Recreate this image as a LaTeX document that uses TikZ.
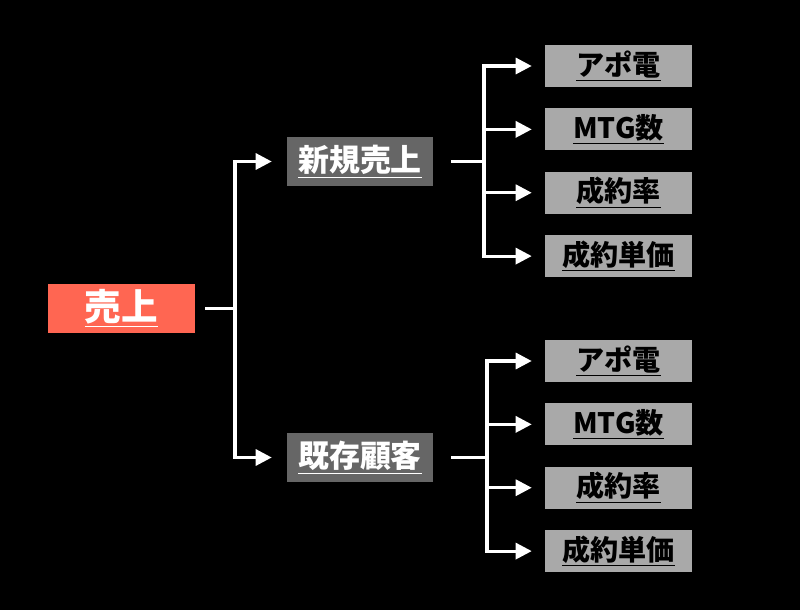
\documentclass[tikz,border=0pt]{standalone}
\usepackage{fontspec}
\setmainfont{Noto Sans CJK JP}
\usepackage{tikz}
\usetikzlibrary{arrows.meta,positioning}
\definecolor{rootred}{HTML}{FF6652}
\definecolor{midgray}{HTML}{666666}
\definecolor{leafgray}{HTML}{A9A9A9}

\begin{document}
\begin{tikzpicture}[
      node distance=0.52cm,
      root/.style={fill=rootred,minimum width=3.675cm,minimum height=1.225cm,inner sep=0pt,text=white,font=\bfseries\fontsize{26}{26}\selectfont},
      mid/.style={fill=midgray,minimum width=3.65cm,minimum height=1.225cm,inner sep=0pt,text=white,font=\bfseries\fontsize{22}{22}\selectfont},
      leaf/.style={fill=leafgray,minimum width=3.675cm,minimum height=1.05cm,text height=0.6cm,inner sep=0pt,text=black,font=\bfseries\fontsize{20}{20}\selectfont},
      conn/.style={white,line width=2.2pt},
      arr/.style={white,line width=2.2pt,-{Triangle[length=0.4cm,width=0.4cm]}},
    ]
    % background
    \fill[black] (0,0) rectangle (20,-15.25);
    \useasboundingbox (0,0) rectangle (20,-15.25);
    % root
    \node[root] (sales) at (3.0375,-7.7125) {\underline{売上}};
    % middle level
    \node[mid] (newsales) at (9.0,-4.0375) {\underline{新規売上}};
    \node[mid] (existing) at (9.0,-11.4375) {\underline{既存顧客}};
    % leaves for new sales
    \node[leaf] (nA) at (15.4625,-1.65) {\underline{アポ電}};
    \node[leaf,below=of nA] (nB) {\underline{MTG数}};
    \node[leaf,below=of nB] (nC) {\underline{成約率}};
    \node[leaf,below=of nC] (nD) {\underline{成約単価}};
    % leaves for existing customers
    \node[leaf] (eA) at (15.4625,-9.025) {\underline{アポ電}};
    \node[leaf,below=of eA] (eB) {\underline{MTG数}};
    \node[leaf,below=of eB] (eC) {\underline{成約率}};
    \node[leaf,below=of eC] (eD) {\underline{成約単価}};

    % junctions
    \coordinate (rj) at (5.875,-7.7125);
    \coordinate (nj) at (12.1,-4.0375);
    \coordinate (ej) at (12.175,-11.4375);

    \draw[conn] ([xshift=0.25cm]sales.east)--(rj);
    \draw[arr] (rj)|-([xshift=-0.375cm]newsales.west);
    \draw[arr] (rj)|-([xshift=-0.375cm]existing.west);

    \draw[conn] ([xshift=0.45cm]newsales.east)--(nj);
    \foreach \n in {nA,nB,nC,nD}
      \draw[arr] (nj)|-([xshift=-0.325cm]\n.west);

    \draw[conn] ([xshift=0.45cm]existing.east)--(ej);
    \foreach \n in {eA,eB,eC,eD}
      \draw[arr] (ej)|-([xshift=-0.325cm]\n.west);
  \end{tikzpicture}
\end{document}
